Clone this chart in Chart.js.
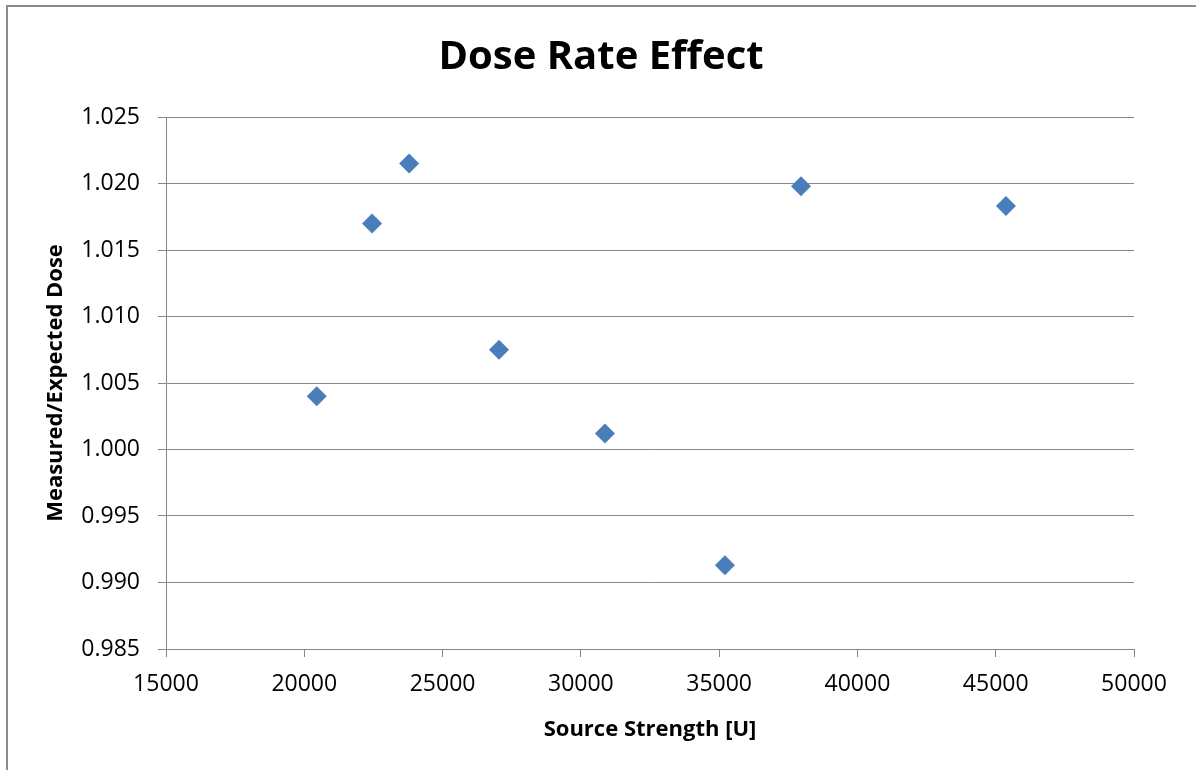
<!DOCTYPE html>
<html>
<head>
<meta charset="utf-8">
<title>Dose Rate Effect</title>
<script src="https://cdn.jsdelivr.net/npm/chart.js@4.4.0/dist/chart.umd.min.js"></script>
<style>
  html, body { margin: 0; padding: 0; background: #ffffff; }
  #wrap { position: relative; width: 1196px; height: 770px; }
  #frame {
    position: absolute; left: 6px; top: 5px; right: -10px; bottom: -10px;
    border-left: 2px solid #8c8c8c; border-top: 2px solid #8c8c8c;
    pointer-events: none;
  }
  canvas { position: absolute; left: 0; top: 0; }
</style>
</head>
<body>
<div id="wrap">
  <canvas id="chart" width="1196" height="770"></canvas>
  <div id="frame"></div>
</div>
<script>
// Source strength [U] and measured/expected dose
var sourceStrength = [20450, 22450, 23790, 27040, 30870, 35210, 37960, 45370];
var doseRatio = [1.0040, 1.0170, 1.0215, 1.0075, 1.0012, 0.9913, 1.0198, 1.0183];

var xTicks = [15000, 20000, 25000, 30000, 35000, 40000, 45000, 50000];
var yTicks = [0.985, 0.990, 0.995, 1.000, 1.005, 1.010, 1.015, 1.020, 1.025];

var fontFamily = '"Open Sans", "Liberation Sans", sans-serif';
var gridColor = '#868686';

var points = [];
for (var i = 0; i < sourceStrength.length; i++) {
  points.push({x: sourceStrength[i], y: doseRatio[i]});
}

// left padding pushes the title to the middle of the frame,
// the y scale width brings the plot edge back to x=166
var padLeft = 68;

var ctx = document.getElementById('chart');
var chart = new Chart(ctx, {
  type: 'scatter',
  data: {
    datasets: [{
      label: 'Dose',
      data: points,
      pointStyle: 'rectRot',
      pointRadius: 10,
      pointHoverRadius: 10,
      backgroundColor: '#4a7ebb',
      borderColor: '#4a7ebb',
      borderWidth: 0
    }]
  },
  options: {
    responsive: false,
    animation: false,
    devicePixelRatio: 1,
    layout: {
      padding: {left: padLeft, right: 62, top: 0, bottom: 0}
    },
    plugins: {
      legend: {display: false},
      tooltip: {enabled: false},
      title: {
        display: true,
        text: 'Dose Rate Effect',
        color: '#000000',
        font: {family: fontFamily, size: 40, weight: 'bold', lineHeight: 1.2},
        padding: {top: 34, bottom: 35}
      }
    },
    scales: {
      x: {
        type: 'linear',
        min: xTicks[0],
        max: xTicks[xTicks.length - 1],
        afterBuildTicks: function (scale) {
          scale.ticks = xTicks.map(function (v) { return {value: v}; });
        },
        afterFit: function (scale) {
          scale.height = 121;
        },
        ticks: {
          color: '#000000',
          font: {family: fontFamily, size: 23},
          padding: 14,
          maxRotation: 0,
          autoSkip: false,
          callback: function (value) { return String(value); }
        },
        grid: {
          drawOnChartArea: false,
          drawTicks: true,
          tickLength: 8,
          color: gridColor,
          lineWidth: 1
        },
        border: {display: true, color: gridColor, width: 1},
        title: {
          display: true,
          text: 'Source Strength [U]',
          color: '#000000',
          font: {family: fontFamily, size: 22, weight: 'bold', lineHeight: 1.2},
          padding: {top: 0, bottom: 27}
        }
      },
      y: {
        type: 'linear',
        min: yTicks[0],
        max: yTicks[yTicks.length - 1],
        afterBuildTicks: function (scale) {
          scale.ticks = yTicks.map(function (v) { return {value: v}; });
        },
        afterFit: function (scale) {
          scale.width = 166 - padLeft;
        },
        ticks: {
          color: '#000000',
          font: {family: fontFamily, size: 23},
          padding: 18,
          autoSkip: false,
          callback: function (value) { return value.toFixed(3); }
        },
        grid: {
          drawOnChartArea: true,
          drawTicks: true,
          tickLength: 8,
          color: gridColor,
          lineWidth: 1
        },
        border: {display: true, color: gridColor, width: 1},
        title: {
          display: true,
          text: 'Measured/Expected Dose',
          color: '#000000',
          font: {family: fontFamily, size: 22, weight: 'bold', lineHeight: 1.2},
          padding: {top: -25, bottom: 0}
        }
      }
    }
  }
});
</script>
</body>
</html>
